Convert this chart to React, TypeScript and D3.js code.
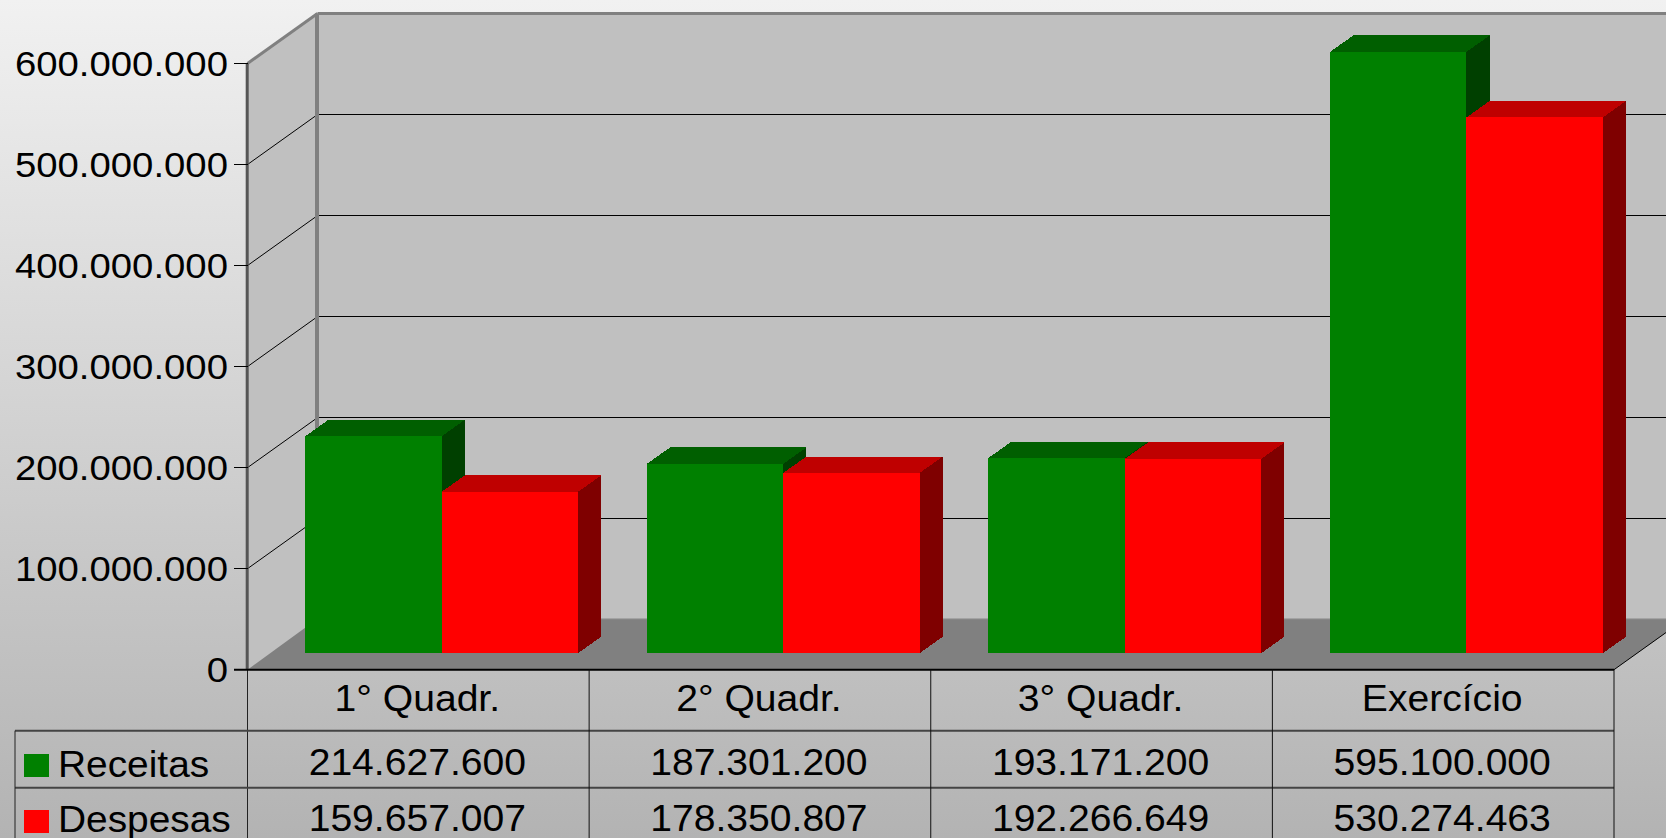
import React from "react";
import * as d3 from "d3";

const categories = ["1° Quadr.", "2° Quadr.", "3° Quadr.", "Exercício"];
const receitas = [214627600, 187301200, 193171200, 595100000];
const despesas = [159657007, 178350807, 192266649, 530274463];
const yTicks = [0, 100000000, 200000000, 300000000, 400000000, 500000000, 600000000];
const seriesNames = ["Receitas", "Despesas"];

const W = 1666, H = 838;
const left = 247.5, right = 1614, y0 = 669.7, y600 = 63.5;
const depthX = 70, depthY = 50;
const barDX = 23.3, barDY = 16.5;
const barPad = 34.4;
const FONT = "'Liberation Sans', Arial, sans-serif";
const SX = 1.065;

const fmt = d3.formatLocale({ decimal: ",", thousands: ".", grouping: [3], currency: ["", ""] }).format(",");
const y = d3.scaleLinear().domain([0, 600000000]).range([y0, y600]);
const x = d3.scaleBand<string>().domain(categories).range([left, right]);
const inner = d3.scaleBand<string>().domain(seriesNames).range([barPad, x.bandwidth() - barPad]);
const rowY = [730.7, 787.7, 845];

const palette: Record<string, { front: string; top: string; side: string }> = {
  Receitas: { front: "#008000", top: "#005f00", side: "#004000" },
  Despesas: { front: "#ff0000", top: "#bf0000", side: "#7f0000" },
};

function Label({ x: px, y: py, anchor = "start", size = 36, children }: any) {
  return (
    <text
      transform={`translate(${px},${py}) scale(${SX},1)`}
      textAnchor={anchor}
      fontFamily={FONT}
      fontSize={size}
      fill="#000"
    >
      {children}
    </text>
  );
}

function Bar({ name, cat, value }: { name: string; cat: string; value: number }) {
  const c = palette[name];
  const xa = (x(cat) as number) + (inner(name) as number) + barDX - 0.1;
  const xb = xa + inner.bandwidth();
  const top = y(value) - barDY;
  const bottom = y0 - barDY;
  return (
    <g shapeRendering="crispEdges">
      <polygon points={`${xb},${top} ${xb + barDX},${top - barDY} ${xb + barDX},${bottom - barDY} ${xb},${bottom}`} fill={c.side} />
      <polygon points={`${xa},${top} ${xa + barDX},${top - barDY} ${xb + barDX},${top - barDY} ${xb},${top}`} fill={c.top} />
      <rect x={xa} y={top} width={xb - xa} height={bottom - top} fill={c.front} />
    </g>
  );
}

export default function App() {
  const backY = (v: number) => y(v) - depthY;
  const backLeft = left + depthX;
  const floorBack = backY(0) - 1;
  return (
    <svg width={W} height={H} viewBox={`0 0 ${W} ${H}`} style={{ position: "fixed", left: 0, top: 0, display: "block" }}>
      <defs>
        <linearGradient id="bg" x1="0" y1="0" x2="0" y2="1">
          <stop offset="0" stopColor="#f1f1f1" />
          <stop offset="1" stopColor="#b3b3b3" />
        </linearGradient>
      </defs>
      <rect width={W} height={H} fill="url(#bg)" />

      {/* walls */}
      <polygon points={`${left},${y(600000000)} ${backLeft},${backY(600000000)} ${backLeft},${floorBack} ${left},${y0}`} fill="#c0c0c0" />
      <rect x={backLeft} y={backY(600000000)} width={W - backLeft} height={floorBack - backY(600000000)} fill="#c0c0c0" />
      {/* floor */}
      <polygon points={`${left},${y0} ${backLeft},${floorBack} ${W + 20},${floorBack} ${right},${y0}`} fill="#808080" />

      {/* grid lines */}
      {yTicks.filter((t) => t > 0 && t < 600000000).map((t) => (
        <g key={t} stroke="#000" fill="none">
          <line x1={left} y1={y(t)} x2={backLeft} y2={backY(t)} strokeWidth={1} />
          <line x1={backLeft} y1={backY(t)} x2={W} y2={backY(t)} strokeWidth={1} shapeRendering="crispEdges" />
        </g>
      ))}

      {/* wall borders */}
      <line x1={backLeft} y1={backY(600000000)} x2={W} y2={backY(600000000)} stroke="#808080" strokeWidth={3} />
      <line x1={backLeft - 0.5} y1={backY(600000000)} x2={backLeft - 0.5} y2={floorBack} stroke="#808080" strokeWidth={4} />
      <line x1={left} y1={y(600000000)} x2={backLeft} y2={backY(600000000)} stroke="#808080" strokeWidth={3} />
      <line x1={backLeft} y1={floorBack} x2={W} y2={floorBack} stroke="#a0a0a0" strokeWidth={1} />
      <line x1={right} y1={y0} x2={right + depthX} y2={backY(0)} stroke="#000" strokeWidth={1} />

      {/* bars */}
      {categories.map((cat, i) => (
        <g key={cat}>
          <Bar name="Receitas" cat={cat} value={receitas[i]} />
          <Bar name="Despesas" cat={cat} value={despesas[i]} />
        </g>
      ))}

      {/* axis and ticks */}
      <line x1={left - 0.3} y1={y(600000000)} x2={left - 0.3} y2={y0} stroke="#555" strokeWidth={3} />
      <line x1={left} y1={y0} x2={left} y2={H} stroke="#222" strokeWidth={1} />
      {yTicks.map((t) => (
        <g key={t}>
          <line x1={234} y1={y(t)} x2={left} y2={y(t)} stroke="#000" strokeWidth={1} shapeRendering="crispEdges" />
          <Label x={228} y={y(t) + 12} anchor="end">{fmt(t)}</Label>
        </g>
      ))}
      <line x1={234} y1={y0} x2={right} y2={y0} stroke="#000" strokeWidth={2} />

      {/* data table */}
      {rowY.slice(0, 2).map((ry) => (
        <line key={ry} x1={15} y1={ry} x2={right} y2={ry} stroke="#444" strokeWidth={2} />
      ))}
      <line x1={15} y1={rowY[0]} x2={15} y2={H} stroke="#222" strokeWidth={1} />
      {categories.map((cat) => (
        <line key={cat} x1={(x(cat) as number) + x.bandwidth()} y1={y0} x2={(x(cat) as number) + x.bandwidth()} y2={H} stroke="#111" strokeWidth={1} />
      ))}
      {categories.map((cat, i) => {
        const cx = (x(cat) as number) + x.bandwidth() / 2 - 1;
        return (
          <g key={cat}>
            <Label x={cx} y={711} anchor="middle" size={36.7}>{cat}</Label>
            <Label x={cx} y={775} anchor="middle" size={36.7}>{fmt(receitas[i])}</Label>
            <Label x={cx} y={830.5} anchor="middle" size={36.7}>{fmt(despesas[i])}</Label>
          </g>
        );
      })}

      {/* legend */}
      {seriesNames.map((name, i) => (
        <g key={name}>
          <rect x={24} y={[754, 810][i]} width={25} height={23} fill={palette[name].front} />
          <Label x={58} y={[776.7, 832][i]} size={36.5}>{name}</Label>
        </g>
      ))}
    </svg>
  );
}
